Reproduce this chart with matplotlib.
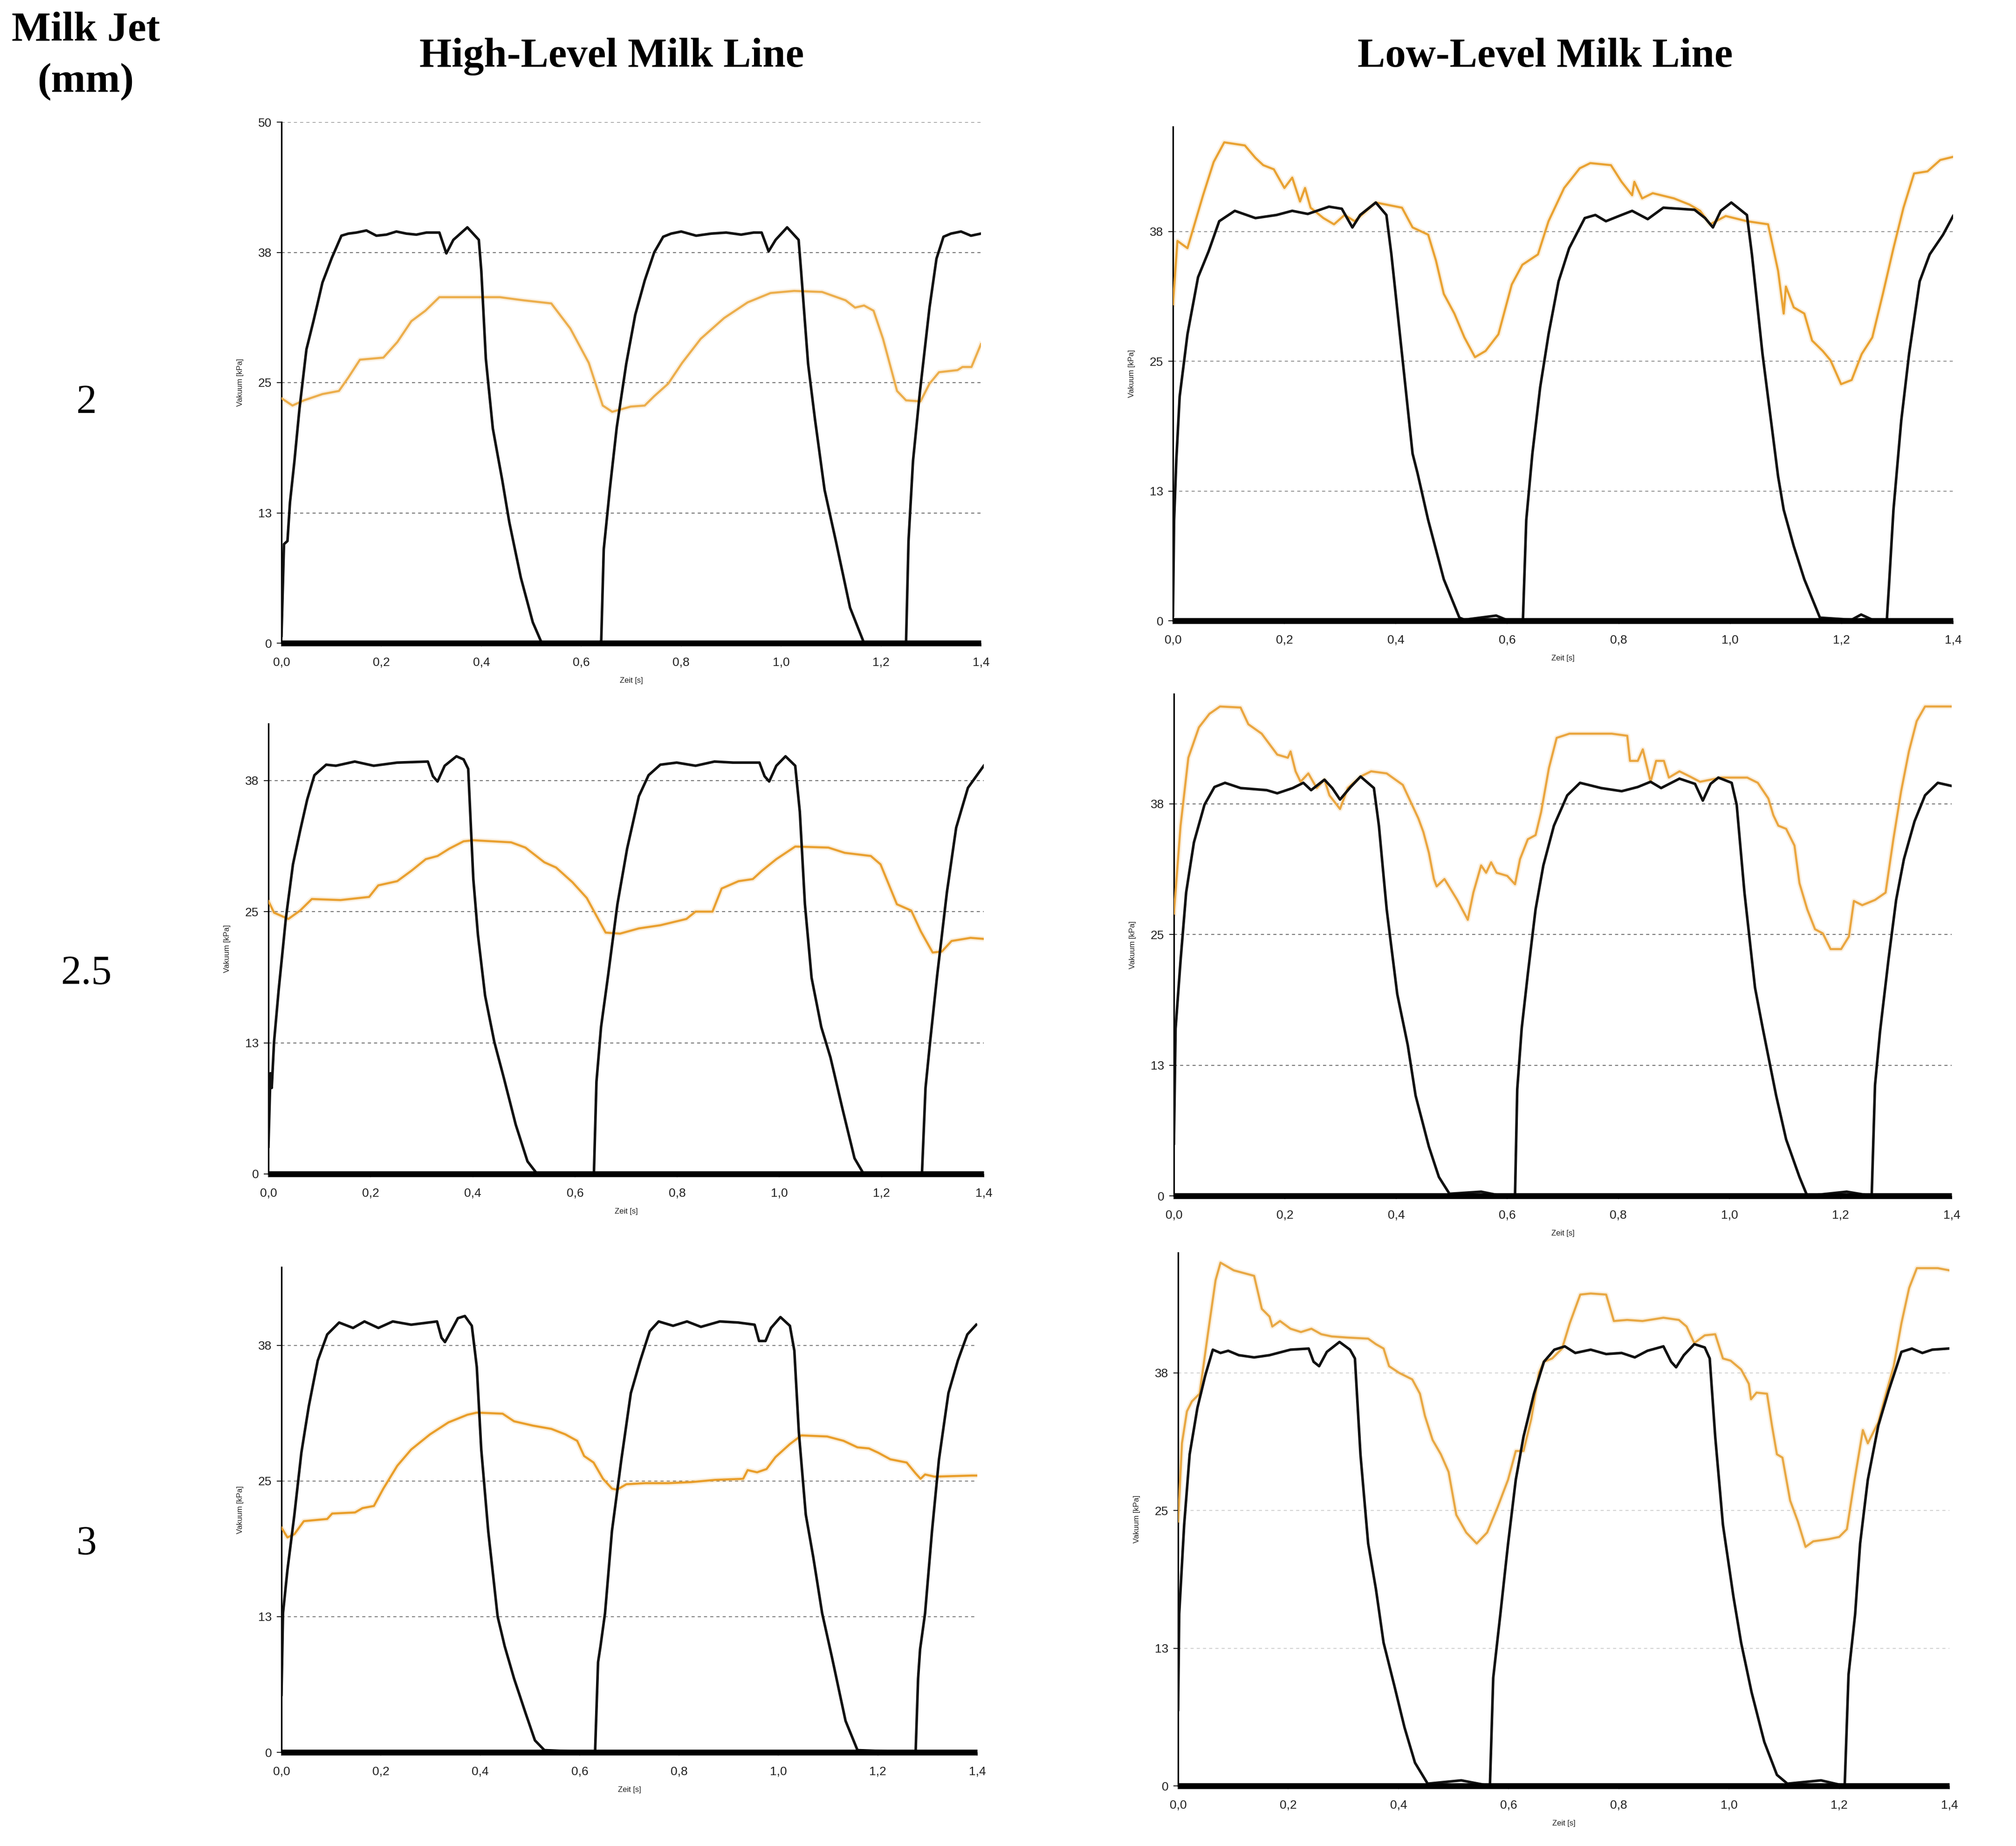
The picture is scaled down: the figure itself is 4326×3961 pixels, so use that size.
import matplotlib
matplotlib.use("Agg")
import matplotlib.pyplot as plt
from matplotlib import font_manager as fm

# ---------------- data (time [s], vacuum [kPa]) ----------------
x_ticks = [0.0, 0.2, 0.4, 0.6, 0.8, 1.0, 1.2, 1.4]
x_tick_labels = ["0,0", "0,2", "0,4", "0,6", "0,8", "1,0", "1,2", "1,4"]
y_ticks = [0, 12.5, 25, 37.5, 50]
y_tick_labels = ["0", "13", "25", "38", "50"]
row_labels = ["2", "2.5", "3"]
col_titles = ["High-Level Milk Line", "Low-Level Milk Line"]

# High-level, 2 mm
hl2_black = [(0.000, 0.7), (0.005, 9.5), (0.012, 9.8), (0.017, 13.5), (0.026, 17.5), (0.036, 22.5),
             (0.050, 28.2), (0.064, 30.9), (0.082, 34.6), (0.101, 37.0), (0.120, 39.1), (0.134, 39.3),
             (0.150, 39.4), (0.170, 39.6), (0.190, 39.1), (0.210, 39.2), (0.230, 39.5), (0.250, 39.3),
             (0.270, 39.2), (0.290, 39.4), (0.316, 39.4), (0.330, 37.4), (0.344, 38.7), (0.372, 39.9),
             (0.395, 38.7), (0.400, 35.7), (0.409, 27.3), (0.423, 20.6), (0.442, 15.6), (0.456, 11.6),
             (0.479, 6.3), (0.503, 2.0), (0.521, 0.0), (0.638, 0.0), (0.640, 0.3), (0.645, 9.0),
             (0.657, 14.7), (0.671, 20.7), (0.690, 26.8), (0.708, 31.5), (0.727, 34.8), (0.746, 37.5),
             (0.764, 39.0), (0.780, 39.3), (0.800, 39.5), (0.830, 39.1), (0.860, 39.3), (0.890, 39.4),
             (0.920, 39.2), (0.945, 39.4), (0.961, 39.4), (0.975, 37.6), (0.989, 38.7), (1.012, 39.9),
             (1.035, 38.7), (1.040, 35.7), (1.054, 26.8), (1.068, 21.4), (1.087, 14.7), (1.110, 9.7),
             (1.138, 3.4), (1.166, 0.0), (1.250, 0.0), (1.255, 9.8), (1.264, 17.5), (1.278, 24.2),
             (1.297, 32.2), (1.311, 36.9), (1.325, 39.0), (1.340, 39.3), (1.360, 39.5), (1.380, 39.1),
             (1.400, 39.3)]
hl2_orange = [(0.000, 23.5), (0.022, 22.8), (0.045, 23.3), (0.082, 23.9), (0.115, 24.2), (0.134, 25.5),
              (0.157, 27.2), (0.204, 27.4), (0.232, 28.9), (0.260, 30.9), (0.288, 31.9), (0.316, 33.2),
              (0.437, 33.2), (0.484, 32.9), (0.540, 32.6), (0.578, 30.2), (0.615, 26.9), (0.643, 22.8),
              (0.662, 22.2), (0.699, 22.7), (0.727, 22.8), (0.746, 23.7), (0.774, 24.9), (0.802, 26.9),
              (0.839, 29.2), (0.886, 31.2), (0.933, 32.7), (0.979, 33.6), (1.026, 33.8), (1.082, 33.7),
              (1.129, 32.9), (1.148, 32.2), (1.166, 32.4), (1.185, 31.9), (1.204, 29.2), (1.232, 24.2),
              (1.250, 23.3), (1.279, 23.2), (1.297, 24.9), (1.316, 26.0), (1.353, 26.2), (1.363, 26.5),
              (1.381, 26.5), (1.400, 28.7)]

# Low-level, 2 mm
ll2_black = [(0.000, 0.5), (0.002, 9.7), (0.006, 15.5), (0.012, 21.6), (0.026, 27.6), (0.045, 33.1),
             (0.064, 35.6), (0.083, 38.5), (0.111, 39.5), (0.148, 38.8), (0.186, 39.1), (0.214, 39.5),
             (0.242, 39.2), (0.280, 39.9), (0.303, 39.7), (0.322, 37.9), (0.336, 39.1), (0.364, 40.3),
             (0.383, 39.1), (0.392, 35.3), (0.411, 25.7), (0.430, 16.1), (0.439, 14.2), (0.458, 9.7),
             (0.486, 4.0), (0.514, 0.3), (0.523, 0.1), (0.580, 0.5), (0.598, 0.1), (0.628, 0.0),
             (0.634, 9.7), (0.645, 16.1), (0.659, 22.5), (0.674, 27.6), (0.692, 32.7), (0.711, 35.9),
             (0.739, 38.8), (0.758, 39.1), (0.777, 38.5), (0.805, 39.1), (0.824, 39.5), (0.852, 38.7),
             (0.880, 39.8), (0.936, 39.6), (0.955, 38.8), (0.969, 37.9), (0.983, 39.5), (1.002, 40.3),
             (1.030, 39.1), (1.039, 35.3), (1.058, 25.7), (1.086, 13.9), (1.096, 10.7), (1.114, 7.2),
             (1.133, 4.0), (1.161, 0.3), (1.218, 0.1), (1.235, 0.6), (1.255, 0.1), (1.281, 0.0),
             (1.285, 3.4), (1.293, 10.7), (1.307, 19.3), (1.321, 25.7), (1.340, 32.7), (1.358, 35.3),
             (1.382, 37.2), (1.400, 39.0)]
ll2_orange = [(0.000, 30.5), (0.008, 36.6), (0.026, 35.9), (0.054, 41.0), (0.073, 44.2), (0.092, 46.1),
              (0.129, 45.8), (0.148, 44.6), (0.162, 43.9), (0.181, 43.5), (0.200, 41.7), (0.214, 42.7),
              (0.228, 40.4), (0.237, 41.7), (0.247, 39.8), (0.270, 38.8), (0.289, 38.2), (0.308, 39.1),
              (0.326, 38.5), (0.364, 40.3), (0.411, 39.8), (0.430, 37.9), (0.458, 37.2), (0.472, 34.7),
              (0.486, 31.5), (0.505, 29.6), (0.523, 27.3), (0.542, 25.4), (0.561, 26.0), (0.584, 27.6),
              (0.608, 32.4), (0.627, 34.3), (0.655, 35.3), (0.674, 38.5), (0.702, 41.7), (0.730, 43.6),
              (0.749, 44.1), (0.786, 43.9), (0.805, 42.3), (0.824, 41.0), (0.828, 42.3), (0.842, 40.7),
              (0.861, 41.2), (0.899, 40.7), (0.927, 40.1), (0.946, 39.5), (0.964, 38.2), (0.992, 39.0),
              (1.030, 38.5), (1.068, 38.2), (1.086, 33.7), (1.096, 29.6), (1.100, 32.2), (1.114, 30.2),
              (1.133, 29.6), (1.147, 27.0), (1.166, 26.0), (1.180, 25.1), (1.199, 22.8), (1.218, 23.2),
              (1.236, 25.7), (1.255, 27.3), (1.274, 31.5), (1.293, 35.9), (1.311, 39.8), (1.330, 43.1),
              (1.354, 43.3), (1.377, 44.4), (1.400, 44.7)]

# High-level, 2.5 mm
hl25_black = [(0.000, 2.6), (0.004, 9.6), (0.0065, 8.2), (0.011, 12.6), (0.020, 17.5), (0.034, 24.3),
              (0.048, 29.5), (0.062, 32.7), (0.076, 35.7), (0.090, 38.0), (0.113, 39.0), (0.132, 38.9),
              (0.169, 39.3), (0.206, 38.9), (0.252, 39.2), (0.312, 39.3), (0.322, 37.9), (0.331, 37.4),
              (0.345, 38.9), (0.368, 39.8), (0.382, 39.5), (0.391, 38.6), (0.401, 28.1), (0.410, 22.8),
              (0.424, 17.0), (0.442, 12.6), (0.461, 9.1), (0.484, 4.7), (0.507, 1.2), (0.526, 0.0),
              (0.637, 0.0), (0.642, 8.8), (0.651, 14.0), (0.665, 19.0), (0.683, 25.7), (0.702, 31.0),
              (0.725, 36.0), (0.744, 38.0), (0.767, 39.0), (0.799, 39.2), (0.836, 38.9), (0.873, 39.3),
              (0.910, 39.2), (0.961, 39.2), (0.971, 37.9), (0.980, 37.4), (0.994, 38.9), (1.012, 39.8),
              (1.031, 38.9), (1.040, 34.5), (1.050, 25.7), (1.063, 18.7), (1.082, 14.0), (1.100, 11.1),
              (1.124, 6.1), (1.147, 1.5), (1.165, 0.0), (1.279, 0.0), (1.286, 8.2), (1.295, 12.6),
              (1.309, 19.0), (1.328, 26.9), (1.346, 33.0), (1.369, 36.8), (1.400, 38.9)]
hl25_orange = [(0.000, 26.0), (0.011, 24.9), (0.039, 24.3), (0.062, 25.1), (0.085, 26.2), (0.141, 26.1),
               (0.197, 26.4), (0.215, 27.5), (0.252, 27.9), (0.280, 28.9), (0.308, 30.0), (0.331, 30.3),
               (0.354, 31.0), (0.382, 31.7), (0.401, 31.8), (0.475, 31.6), (0.503, 31.1), (0.540, 29.7),
               (0.563, 29.2), (0.595, 27.8), (0.623, 26.3), (0.642, 24.6), (0.660, 23.0), (0.688, 22.9),
               (0.725, 23.4), (0.767, 23.7), (0.818, 24.3), (0.836, 25.0), (0.869, 25.0), (0.887, 27.2),
               (0.920, 27.9), (0.948, 28.1), (0.966, 28.9), (0.994, 30.0), (1.031, 31.2), (1.096, 31.1),
               (1.128, 30.6), (1.179, 30.3), (1.198, 29.5), (1.230, 25.7), (1.258, 25.1), (1.277, 23.1),
               (1.300, 21.1), (1.318, 21.2), (1.337, 22.2), (1.374, 22.5), (1.400, 22.4)]

# Low-level, 2.5 mm
ll25_black = [(0.000, 5.0), (0.003, 16.0), (0.012, 22.5), (0.022, 29.0), (0.036, 33.8), (0.055, 37.4),
              (0.073, 39.1), (0.092, 39.5), (0.120, 39.0), (0.167, 38.8), (0.186, 38.5), (0.214, 39.0),
              (0.233, 39.5), (0.247, 38.8), (0.271, 39.8), (0.285, 39.0), (0.299, 37.9), (0.318, 39.1),
              (0.336, 40.1), (0.360, 39.0), (0.369, 35.4), (0.383, 27.4), (0.402, 19.3), (0.421, 14.4),
              (0.435, 9.6), (0.459, 4.7), (0.477, 1.8), (0.496, 0.2), (0.553, 0.4), (0.581, 0.1),
              (0.614, 0.0), (0.618, 10.2), (0.626, 16.0), (0.637, 21.2), (0.651, 27.4), (0.665, 31.6),
              (0.684, 35.4), (0.708, 38.3), (0.731, 39.5), (0.769, 39.0), (0.806, 38.7), (0.835, 39.1),
              (0.858, 39.6), (0.877, 39.0), (0.910, 39.9), (0.938, 39.4), (0.952, 37.8), (0.966, 39.4),
              (0.980, 40.0), (1.004, 39.5), (1.013, 37.4), (1.027, 29.0), (1.046, 19.9), (1.060, 16.0),
              (1.084, 9.6), (1.102, 5.4), (1.126, 1.8), (1.140, 0.0), (1.211, 0.4), (1.256, 0.0),
              (1.262, 10.6), (1.271, 15.7), (1.286, 22.5), (1.300, 28.3), (1.314, 32.2), (1.333, 35.8),
              (1.352, 38.3), (1.375, 39.5), (1.400, 39.2)]
ll25_orange = [(0.000, 27.0), (0.012, 35.4), (0.026, 41.9), (0.045, 44.8), (0.064, 46.1), (0.083, 46.8),
               (0.120, 46.7), (0.134, 45.1), (0.158, 44.2), (0.186, 42.2), (0.205, 41.9), (0.210, 42.5),
               (0.219, 40.6), (0.228, 39.6), (0.242, 40.4), (0.257, 39.0), (0.271, 39.8), (0.280, 38.3),
               (0.299, 37.0), (0.313, 39.0), (0.336, 40.1), (0.355, 40.6), (0.383, 40.4), (0.412, 39.3),
               (0.426, 37.7), (0.440, 36.1), (0.449, 34.8), (0.459, 32.8), (0.468, 30.3), (0.473, 29.6),
               (0.487, 30.3), (0.510, 28.3), (0.529, 26.4), (0.539, 29.0), (0.553, 31.6), (0.562, 30.9),
               (0.571, 31.9), (0.581, 30.9), (0.600, 30.6), (0.614, 29.8), (0.623, 32.2), (0.637, 34.1),
               (0.651, 34.5), (0.661, 36.7), (0.675, 40.9), (0.689, 43.8), (0.712, 44.2), (0.788, 44.2),
               (0.816, 44.0), (0.821, 41.6), (0.835, 41.6), (0.844, 42.7), (0.858, 39.6), (0.868, 41.6),
               (0.882, 41.6), (0.891, 40.0), (0.910, 40.6), (0.929, 40.1), (0.947, 39.6), (0.985, 40.0),
               (1.032, 40.0), (1.051, 39.5), (1.070, 38.0), (1.079, 36.4), (1.088, 35.4), (1.102, 35.1),
               (1.117, 33.5), (1.126, 29.9), (1.140, 27.4), (1.154, 25.5), (1.168, 25.1), (1.182, 23.6),
               (1.201, 23.6), (1.215, 24.8), (1.224, 28.2), (1.239, 27.8), (1.262, 28.3), (1.281, 29.0),
               (1.295, 34.1), (1.309, 38.7), (1.323, 42.5), (1.337, 45.4), (1.352, 46.8), (1.400, 46.8)]

# High-level, 3 mm
hl3_black = [(0.000, 5.3), (0.003, 12.8), (0.012, 16.8), (0.026, 21.9), (0.040, 27.6), (0.055, 31.9),
             (0.073, 36.1), (0.092, 38.5), (0.116, 39.6), (0.144, 39.1), (0.167, 39.7), (0.195, 39.1),
             (0.224, 39.7), (0.261, 39.4), (0.313, 39.7), (0.322, 38.2), (0.329, 37.8), (0.341, 38.8),
             (0.355, 40.0), (0.369, 40.2), (0.383, 39.3), (0.393, 35.5), (0.402, 27.9), (0.416, 20.4),
             (0.435, 12.5), (0.449, 9.8), (0.468, 6.8), (0.492, 3.5), (0.510, 1.1), (0.529, 0.2),
             (0.631, 0.0), (0.637, 8.3), (0.642, 9.8), (0.651, 12.8), (0.665, 20.4), (0.684, 27.0),
             (0.703, 33.1), (0.722, 36.1), (0.741, 38.8), (0.759, 39.7), (0.788, 39.3), (0.816, 39.7),
             (0.844, 39.2), (0.882, 39.7), (0.919, 39.6), (0.952, 39.4), (0.961, 37.9), (0.974, 37.9),
             (0.985, 39.1), (1.004, 40.1), (1.023, 39.3), (1.032, 37.0), (1.041, 29.5), (1.055, 21.9),
             (1.070, 18.0), (1.088, 12.8), (1.107, 8.9), (1.135, 2.9), (1.159, 0.2), (1.276, 0.0),
             (1.281, 6.8), (1.285, 9.5), (1.295, 12.8), (1.309, 20.4), (1.323, 27.0), (1.342, 33.1),
             (1.361, 36.1), (1.380, 38.5), (1.398, 39.4)]
hl3_orange = [(0.000, 20.7), (0.012, 19.8), (0.026, 20.1), (0.045, 21.3), (0.092, 21.5), (0.102, 22.0),
              (0.148, 22.1), (0.163, 22.5), (0.186, 22.7), (0.205, 24.3), (0.233, 26.4), (0.261, 27.9),
              (0.299, 29.3), (0.336, 30.4), (0.374, 31.1), (0.393, 31.3), (0.445, 31.2), (0.468, 30.5),
              (0.506, 30.1), (0.543, 29.8), (0.571, 29.3), (0.595, 28.7), (0.609, 27.3), (0.628, 26.7),
              (0.647, 25.2), (0.665, 24.3), (0.675, 24.2), (0.694, 24.7), (0.731, 24.8), (0.778, 24.8),
              (0.825, 24.9), (0.872, 25.1), (0.929, 25.2), (0.938, 26.0), (0.957, 25.8), (0.976, 26.1),
              (0.994, 27.2), (1.023, 28.4), (1.046, 29.2), (1.098, 29.1), (1.131, 28.7), (1.159, 28.1),
              (1.182, 28.0), (1.201, 27.6), (1.225, 27.0), (1.258, 26.7), (1.276, 25.7), (1.286, 25.2),
              (1.295, 25.6), (1.314, 25.4), (1.389, 25.5), (1.400, 25.5)]

# Low-level, 3 mm
ll3_black = [(0.000, 6.9), (0.002, 15.6), (0.011, 23.7), (0.021, 30.1), (0.035, 34.3), (0.049, 37.2),
             (0.063, 39.6), (0.077, 39.3), (0.091, 39.5), (0.110, 39.1), (0.138, 38.9), (0.166, 39.1),
             (0.204, 39.6), (0.237, 39.7), (0.246, 38.5), (0.256, 38.1), (0.270, 39.4), (0.293, 40.3),
             (0.312, 39.6), (0.321, 38.8), (0.331, 30.1), (0.345, 22.0), (0.359, 17.9), (0.373, 13.0),
             (0.392, 9.2), (0.411, 5.3), (0.430, 2.1), (0.453, 0.2), (0.514, 0.5), (0.566, 0.0),
             (0.572, 9.8), (0.585, 15.6), (0.599, 22.0), (0.613, 27.8), (0.627, 31.7), (0.646, 35.6),
             (0.664, 38.5), (0.683, 39.6), (0.702, 39.9), (0.721, 39.3), (0.749, 39.6), (0.777, 39.2),
             (0.805, 39.3), (0.829, 38.9), (0.852, 39.5), (0.881, 39.9), (0.895, 38.5), (0.904, 38.0),
             (0.918, 39.1), (0.937, 40.1), (0.956, 39.8), (0.965, 38.8), (0.975, 31.7), (0.989, 23.7),
             (1.008, 17.2), (1.022, 13.0), (1.041, 8.5), (1.064, 4.0), (1.087, 1.0), (1.106, 0.2),
             (1.167, 0.5), (1.210, 0.0), (1.217, 10.1), (1.229, 15.6), (1.238, 22.0), (1.252, 27.8),
             (1.271, 32.7), (1.290, 35.9), (1.313, 39.4), (1.332, 39.7), (1.351, 39.3), (1.369, 39.6),
             (1.398, 39.7)]
ll3_orange = [(0.000, 24.0), (0.007, 31.1), (0.016, 34.0), (0.025, 34.9), (0.039, 35.6), (0.054, 41.0),
              (0.068, 45.9), (0.077, 47.5), (0.101, 46.8), (0.138, 46.3), (0.152, 43.3), (0.166, 42.6),
              (0.171, 41.7), (0.185, 42.2), (0.204, 41.5), (0.223, 41.2), (0.242, 41.5), (0.260, 41.0),
              (0.279, 40.8), (0.307, 40.7), (0.345, 40.6), (0.359, 40.1), (0.373, 39.7), (0.383, 38.1),
              (0.401, 37.5), (0.425, 36.9), (0.439, 35.6), (0.448, 33.6), (0.462, 31.4), (0.477, 30.1),
              (0.491, 28.5), (0.505, 24.6), (0.523, 23.0), (0.542, 22.0), (0.561, 23.0), (0.580, 25.3),
              (0.599, 27.8), (0.613, 30.4), (0.627, 30.4), (0.641, 33.3), (0.655, 37.5), (0.664, 38.5),
              (0.679, 38.8), (0.697, 39.7), (0.711, 42.0), (0.730, 44.6), (0.749, 44.7), (0.777, 44.6),
              (0.791, 42.2), (0.815, 42.3), (0.843, 42.2), (0.881, 42.5), (0.909, 42.3), (0.923, 41.7),
              (0.937, 40.2), (0.956, 40.9), (0.975, 41.0), (0.989, 38.8), (1.003, 38.6), (1.022, 37.8),
              (1.036, 36.5), (1.040, 35.1), (1.050, 35.7), (1.069, 35.6), (1.078, 32.7), (1.087, 30.1),
              (1.097, 29.8), (1.111, 25.9), (1.125, 24.0), (1.139, 21.7), (1.153, 22.2), (1.181, 22.4),
              (1.200, 22.6), (1.214, 23.3), (1.228, 27.8), (1.243, 32.3), (1.252, 31.1), (1.271, 33.0),
              (1.285, 35.6), (1.299, 38.1), (1.313, 42.0), (1.327, 45.2), (1.341, 47.0), (1.379, 47.0),
              (1.400, 46.8)]

y_max = {"hl2": 50.0, "ll2": 47.6, "hl25": 42.9, "ll25": 48.0, "hl3": 44.7, "ll3": 48.4}

# ---------------- figure ----------------
W, H = 4326, 3961
fig = plt.figure(figsize=(W / 100, H / 100), dpi=100)
fig.patch.set_facecolor("white")

names = {f.name for f in fm.fontManager.ttflist}
tick_family = "Liberation Sans Narrow" if "Liberation Sans Narrow" in names else "Liberation Sans"
serif = ["Liberation Serif", "DejaVu Serif"]

BLACK = "#111111"
ORANGE = {"hl2": "#ECAE4C", "ll2": "#E9A232", "hl25": "#E9A030",
          "ll25": "#EAA640", "hl3": "#E99E2A", "ll3": "#E8A844"}

# axes boxes in pixels: left, right, bottom, top
boxes = {
    "hl2": (604, 2105, 1380, 262),
    "ll2": (2517, 4191, 1332, 272),
    "hl25": (576, 2111, 2519, 1553),
    "ll25": (2519, 4188, 2566, 1489),
    "hl3": (604, 2097, 3760, 2719),
    "ll3": (2528, 4183, 3832, 2688),
}
series = {
    "hl2": (hl2_black, hl2_orange),
    "ll2": (ll2_black, ll2_orange),
    "hl25": (hl25_black, hl25_orange),
    "ll25": (ll25_black, ll25_orange),
    "hl3": (hl3_black, hl3_orange),
    "ll3": (ll3_black, ll3_orange),
}
grid_col = {"hl2": "#7a7a7a", "ll2": "#9a9a9a", "hl25": "#7a7a7a",
            "ll25": "#7a7a7a", "hl3": "#858585", "ll3": "#d4d4d4"}

for key, (l, r, b, t) in boxes.items():
    ax = fig.add_axes([l / W, 1 - b / H, (r - l) / W, (b - t) / H])
    black, orange = series[key]
    ox = [p[0] for p in orange]
    oy = [p[1] for p in orange]
    bx = [p[0] for p in black]
    by = [p[1] for p in black]
    ax.plot(ox, oy, color=ORANGE[key], lw=8, alpha=0.16, solid_joinstyle="round", zorder=2)
    ax.plot(ox, oy, color=ORANGE[key], lw=3.3, solid_joinstyle="round", zorder=3)
    ax.plot(bx, by, color=BLACK, lw=4.0, solid_joinstyle="round", zorder=4)

    ymax = y_max[key]
    ax.set_xlim(0, 1.4)
    ax.set_ylim(0, ymax)
    yt = [v for v in y_ticks if v <= ymax + 0.01]
    ax.set_yticks(yt)
    ax.set_yticklabels(y_tick_labels[:len(yt)])
    ax.set_xticks(x_ticks)
    ax.set_xticklabels(x_tick_labels)
    for s in ("top", "right"):
        ax.spines[s].set_visible(False)
    ax.spines["left"].set_linewidth(2.4)
    ax.spines["left"].set_color("black")
    ax.spines["bottom"].set_linewidth(9)
    ax.spines["bottom"].set_color("black")
    ax.spines["bottom"].set_zorder(5)
    ax.spines["bottom"].set_capstyle("butt")
    ax.yaxis.grid(True, linestyle=(0, (3, 3)), linewidth=1.6, color=grid_col[key], zorder=1)
    ax.xaxis.grid(False)
    ax.set_axisbelow(True)
    ax.tick_params(axis="y", length=7, width=1.5, pad=8, colors="#222222",
                   labelsize=19)
    ax.tick_params(axis="x", length=5, width=1.2, pad=16, colors="#222222",
                   labelsize=19)
    for lab in ax.get_xticklabels() + ax.get_yticklabels():
        lab.set_family([tick_family, "DejaVu Sans"])
    ax.set_ylabel("Vakuum [kPa]", fontsize=12, family=[tick_family, "DejaVu Sans"],
                  color="#222222", labelpad=22)
    ax.set_xlabel("Zeit [s]", fontsize=12, family=[tick_family, "DejaVu Sans"],
                  color="#222222", labelpad=14)
    ax.patch.set_alpha(0)

# ---------------- headings ----------------
fig.text(184 / W, 1 - 87 / H, "Milk Jet", ha="center", va="baseline",
         fontsize=64, fontweight="bold", family=serif)
fig.text(184 / W, 1 - 197 / H, "(mm)", ha="center", va="baseline",
         fontsize=64, fontweight="bold", family=serif)
fig.text(1313 / W, 1 - 143 / H, col_titles[0], ha="center", va="baseline",
         fontsize=64, fontweight="bold", family=serif)
fig.text(3316 / W, 1 - 143 / H, col_titles[1], ha="center", va="baseline",
         fontsize=64, fontweight="bold", family=serif)
for lab, yc in zip(row_labels, [864, 2089, 3314]):
    fig.text(185 / W, 1 - yc / H, lab, ha="center", va="center",
             fontsize=63, family=serif)

fig.savefig("out.png", dpi=100, facecolor="white")
